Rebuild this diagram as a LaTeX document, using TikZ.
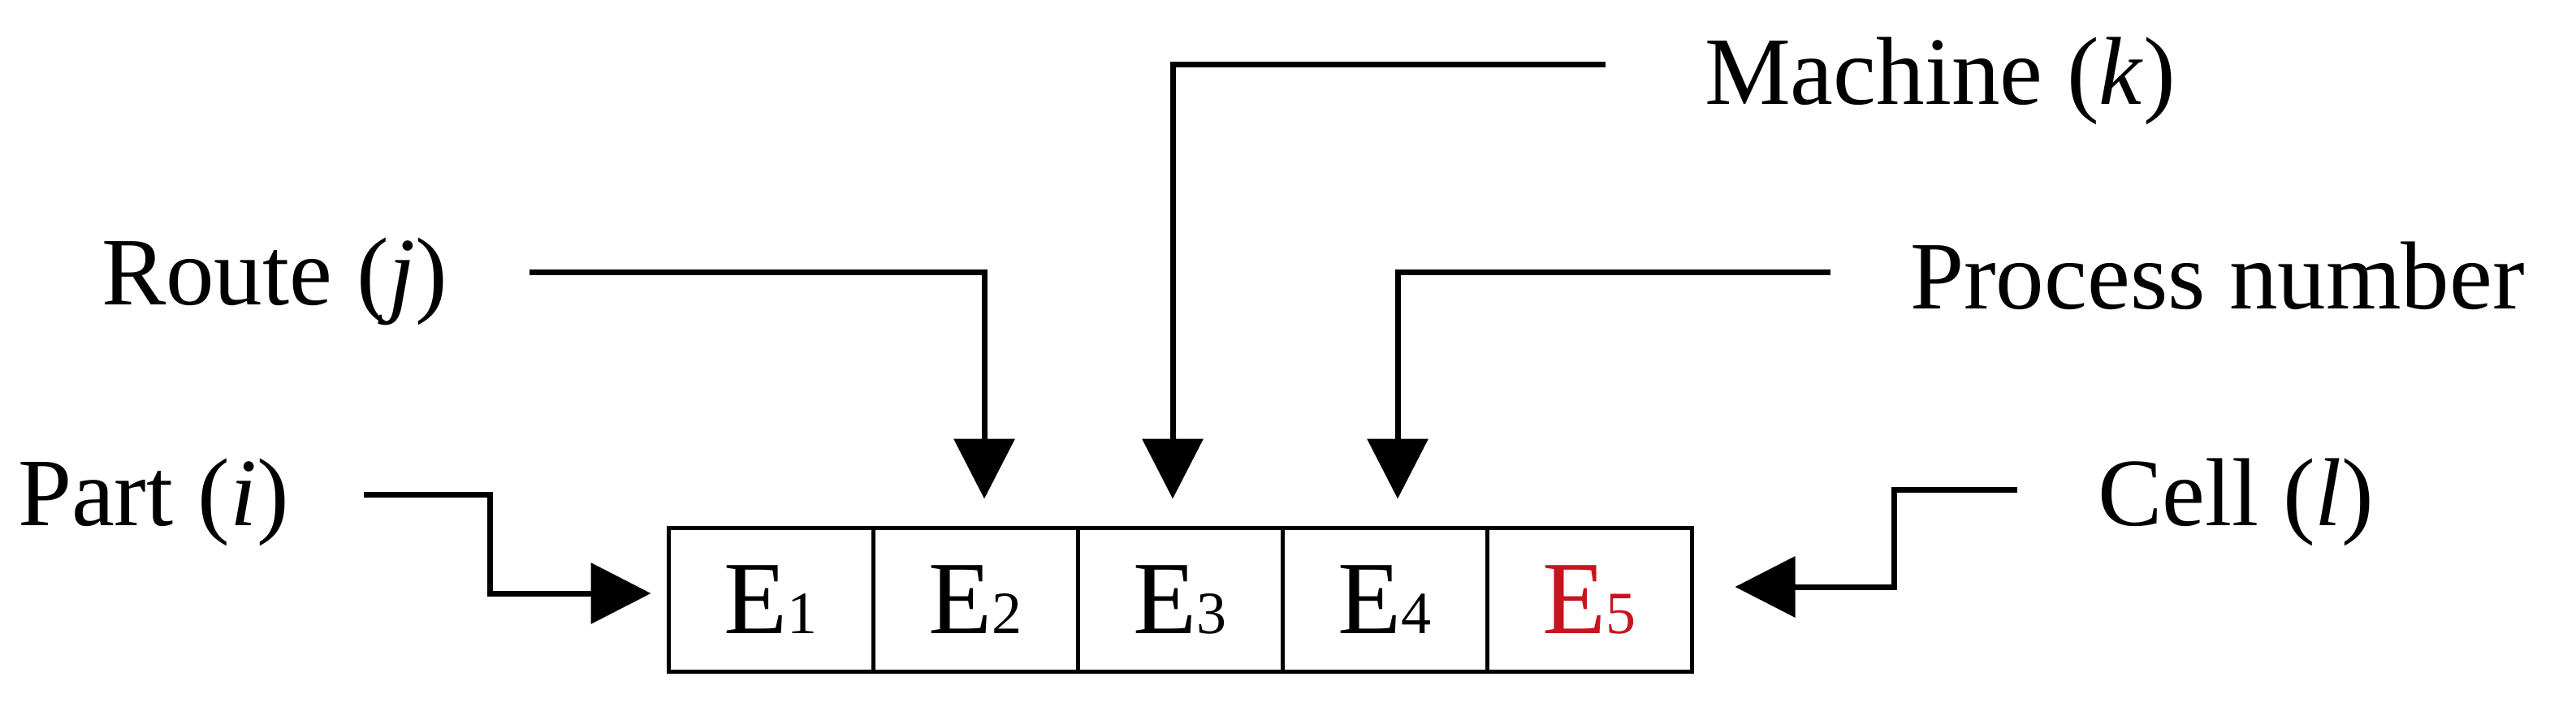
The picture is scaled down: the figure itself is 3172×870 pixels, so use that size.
\documentclass[tikz,border=0pt]{standalone}
\usepackage{fontspec}
\setmainfont{Liberation Serif}
\usetikzlibrary{arrows.meta}
\definecolor{ered}{RGB}{200,20,30}
\newcommand{\esub}[1]{{\fontsize{7.4pt}{9pt}\selectfont #1}}
\begin{document}
\begin{tikzpicture}[x=0.1pt,y=-0.1pt,
  cellbox/.style={draw, line width=0.5pt, minimum width=25.2pt, minimum height=17.7pt, inner sep=0pt, font=\fontsize{12.8pt}{14pt}\selectfont},
  lab/.style={anchor=base west, inner sep=0pt, font=\fontsize{11.9pt}{14pt}\selectfont},
  arr/.style={line width=0.7pt, -{Triangle[length=7.4pt,width=7.4pt]}}]
\useasboundingbox (0,0) rectangle (3172,870);
% cells
\node[cellbox] (e1) at (949,738.5) {E\esub{1}};
\node[cellbox] (e2) at (1201,738.5) {E\esub{2}};
\node[cellbox] (e3) at (1453,738.5) {E\esub{3}};
\node[cellbox] (e4) at (1705,738.5) {E\esub{4}};
\node[cellbox, text=ered] (e5) at (1957,738.5) {E\esub{5}};
% labels
\node[lab] (part) at (20,647) {Part (\textit{i})};
\node[lab] (route) at (123,375) {Route (\textit{j})};
\node[lab] (mach) at (2097,128) {Machine (\textit{k})};
\node[lab] (proc) at (2350,380) {Process number};
\node[lab] (celll) at (2581,647) {Cell (\textit{l})};
% connector starts
\coordinate (ps) at (448,609);
\coordinate (rs) at (652,335);
\coordinate (ms) at (1977,79);
\coordinate (qs) at (2254,335);
\coordinate (cs) at (2484,603);
% connectors
\draw[arr, shorten >=1.9pt] (ps) -- (603,609) |- ([yshift=0.75pt]e1.west);
\draw[arr, shorten >=3.3pt] (rs) -| ([xshift=1.1pt]e2.north);
\draw[arr, shorten >=3.3pt] (ms) -| ([xshift=-0.9pt]e3.north);
\draw[arr, shorten >=3.3pt] (qs) -| ([xshift=1.6pt]e4.north);
\draw[arr, shorten >=5.1pt] (cs) -- (2332,603) |- ([yshift=1.55pt]e5.east);
\end{tikzpicture}
\end{document}
